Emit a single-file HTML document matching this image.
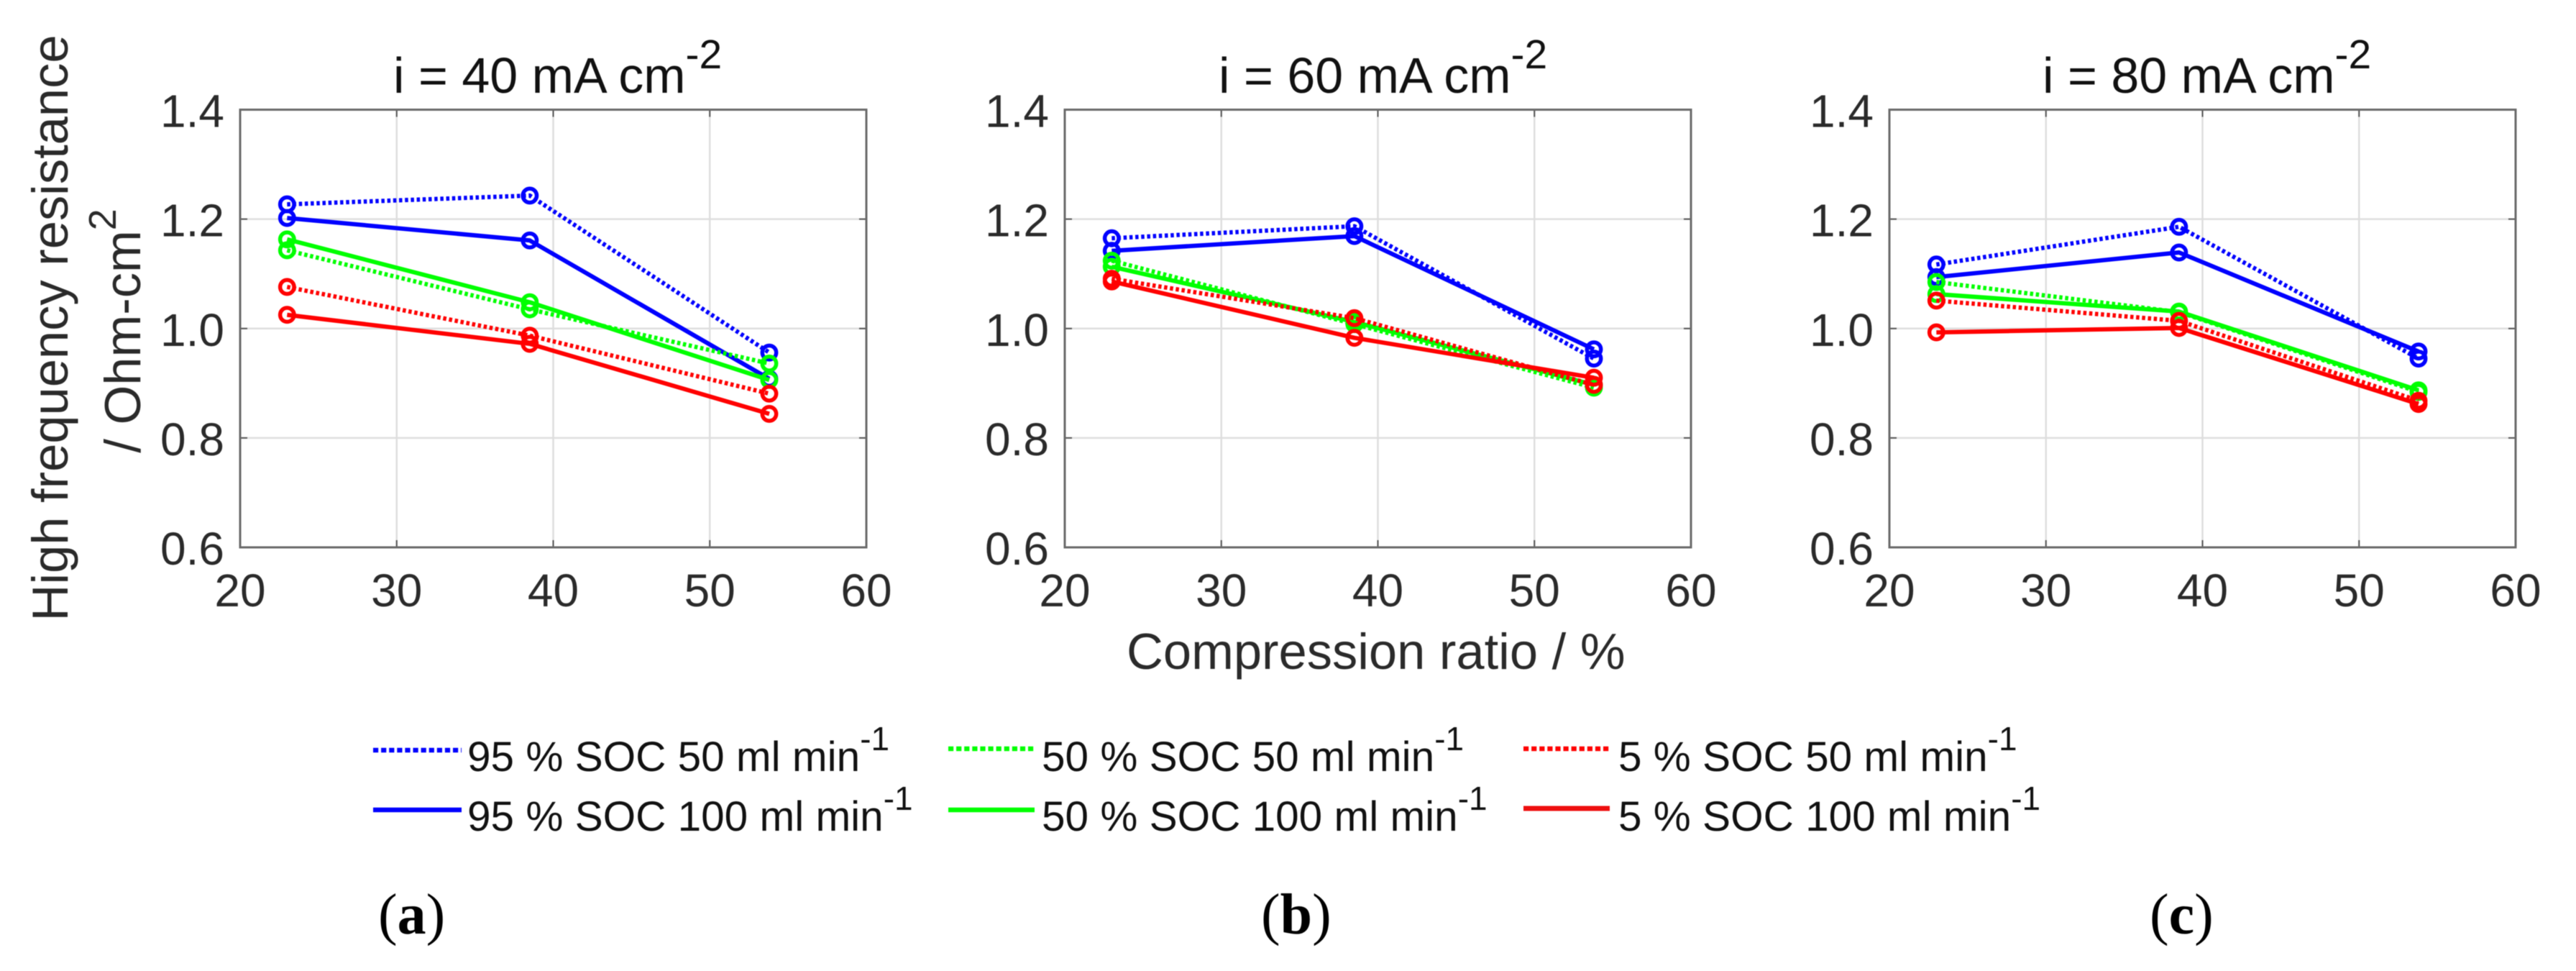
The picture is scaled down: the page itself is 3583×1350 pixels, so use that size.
<!DOCTYPE html>
<html>
<head>
<meta charset="utf-8">
<title>High frequency resistance vs compression ratio</title>
<style>
html,body{margin:0;padding:0;background:#fff;}
svg{display:block;filter:blur(0.6px);}
text{font-family:"Liberation Sans",Arial,sans-serif;}
.legend-text{font-size:58.5px;fill:#111;}
.panel-title{font-size:70px;fill:#111;}
.axis-title{font-size:70.5px;fill:#2a2a2a;}
.panel-letter{font-family:"Liberation Serif",serif;font-size:80px;fill:#000;}
</style>
</head>
<body>
<svg id="figure" xmlns="http://www.w3.org/2000/svg" width="3583" height="1350" viewBox="0 0 3583 1350">
  <rect x="0" y="0" width="3583" height="1350" fill="#fff"/>
  <g id="panels"></g>

  <text class="panel-title" x="547" y="129">i = 40 mA cm<tspan font-size="57" dy="-34">-2</tspan></text>
  <text class="panel-title" x="1695" y="129">i = 60 mA cm<tspan font-size="57" dy="-34">-2</tspan></text>
  <text class="panel-title" x="2841" y="129">i = 80 mA cm<tspan font-size="57" dy="-34">-2</tspan></text>

  <text class="axis-title" text-anchor="middle" transform="translate(94 456) rotate(-90)">High frequency resistance</text>
  <text class="axis-title" text-anchor="middle" transform="translate(195 460) rotate(-90)">/ Ohm-cm<tspan font-size="54" dy="-34">2</tspan></text>
  <text class="axis-title" x="1567" y="930">Compression ratio / %</text>

  <g>
    <g>
      <line x1="519" y1="1043" x2="642" y2="1043" stroke="#0000ff" stroke-width="6.5" stroke-dasharray="7.2 3.9"/>
      <text class="legend-text" x="650" y="1072">95 % SOC 50 ml min<tspan font-size="46" dy="-29">-1</tspan></text>
    </g>
    <g>
      <line x1="519" y1="1126" x2="642" y2="1126" stroke="#0000ff" stroke-width="6.5"/>
      <text class="legend-text" x="650" y="1155">95 % SOC 100 ml min<tspan font-size="46" dy="-29">-1</tspan></text>
    </g>
    <g>
      <line x1="1319" y1="1041" x2="1439" y2="1041" stroke="#00ff00" stroke-width="6.5" stroke-dasharray="7.2 3.9"/>
      <text class="legend-text" x="1449" y="1072">50 % SOC 50 ml min<tspan font-size="46" dy="-29">-1</tspan></text>
    </g>
    <g>
      <line x1="1319" y1="1126" x2="1439" y2="1126" stroke="#00ff00" stroke-width="6.5"/>
      <text class="legend-text" x="1449" y="1155">50 % SOC 100 ml min<tspan font-size="46" dy="-29">-1</tspan></text>
    </g>
    <g>
      <line x1="2119" y1="1041" x2="2239" y2="1041" stroke="#ff0000" stroke-width="6.5" stroke-dasharray="7.2 3.9"/>
      <text class="legend-text" x="2251" y="1072">5 % SOC 50 ml min<tspan font-size="46" dy="-29">-1</tspan></text>
    </g>
    <g>
      <line x1="2119" y1="1124" x2="2239" y2="1124" stroke="#ee0f0f" stroke-width="7"/>
      <text class="legend-text" x="2251" y="1155">5 % SOC 100 ml min<tspan font-size="46" dy="-29">-1</tspan></text>
    </g>
  </g>

  <text class="panel-letter" x="526" y="1298">(<tspan font-weight="bold">a</tspan>)</text>
  <text class="panel-letter" x="1754" y="1298">(<tspan font-weight="bold">b</tspan>)</text>
  <text class="panel-letter" x="2990" y="1298">(<tspan font-weight="bold">c</tspan>)</text>
</svg>

<script>
// ---- data ----
const compressionRatios = [23, 38.5, 53.8];
const xTickLabels = [20, 30, 40, 50, 60];
const yTickLabels = [0.6, 0.8, 1.0, 1.2, 1.4];
const seriesNames = ['95-soc-50', '95-soc-100', '50-soc-50', '50-soc-100', '5-soc-50', '5-soc-100'];

const i40_soc95_50  = [1.227, 1.243, 0.956];
const i40_soc95_100 = [1.202, 1.161, 0.908];
const i40_soc50_50  = [1.143, 1.035, 0.936];
const i40_soc50_100 = [1.163, 1.048, 0.906];
const i40_soc5_50   = [1.076, 0.987, 0.881];
const i40_soc5_100  = [1.025, 0.972, 0.844];

const i60_soc95_50  = [1.165, 1.187, 0.945];
const i60_soc95_100 = [1.142, 1.169, 0.962];
const i60_soc50_50  = [1.124, 1.008, 0.892];
const i60_soc50_100 = [1.113, 1.012, 0.897];
const i60_soc5_50   = [1.091, 1.019, 0.897];
const i60_soc5_100  = [1.086, 0.983, 0.910];

const i80_soc95_50  = [1.117, 1.186, 0.945];
const i80_soc95_100 = [1.094, 1.139, 0.958];
const i80_soc50_50  = [1.085, 1.030, 0.884];
const i80_soc50_100 = [1.063, 1.031, 0.887];
const i80_soc5_50   = [1.051, 1.014, 0.868];
const i80_soc5_100  = [0.993, 1.001, 0.862];

const panelSeries = [
  [i40_soc95_50, i40_soc95_100, i40_soc50_50, i40_soc50_100, i40_soc5_50, i40_soc5_100],
  [i60_soc95_50, i60_soc95_100, i60_soc50_50, i60_soc50_100, i60_soc5_50, i60_soc5_100],
  [i80_soc95_50, i80_soc95_100, i80_soc50_50, i80_soc50_100, i80_soc5_50, i80_soc5_100]
];
const panelNames = ['i40', 'i60', 'i80'];

// ---- layout & style ----
const plotLefts = [334, 1481, 2628];
const plotRights = [1205, 2352, 3499];
const plotTop = 152.5;
const plotBottom = 761;
const seriesColors = ['#0000ff', '#0000ff', '#00ff00', '#00ff00', '#ff0000', '#ff0000'];
const seriesDashes = ['4.5 3.7', null, '4.5 3.7', null, '4.5 3.7', null];

const SVG_NS = 'http://www.w3.org/2000/svg';
const root = document.getElementById('panels');

function mk(tag, parent, attrs) {
  const el = document.createElementNS(SVG_NS, tag);
  for (const k in attrs) { if (attrs[k] !== null) el.setAttribute(k, attrs[k]); }
  parent.appendChild(el);
  return el;
}

function xScale(p, v) {
  return plotLefts[p] + (v - 20) / 40 * (plotRights[p] - plotLefts[p]);
}
function yScale(v) {
  return plotBottom - (v - 0.6) / 0.8 * (plotBottom - plotTop);
}

panelSeries.forEach(function (series, p) {
  const left = plotLefts[p], right = plotRights[p];

  const g = mk('g', root, {});
  
  

  // gridlines
  xTickLabels.slice(1, -1).forEach(function (t) {
    const gx = mk('line', g, {x1: xScale(p, t), x2: xScale(p, t), y1: plotTop, y2: plotBottom, stroke: '#dedede', 'stroke-width': 2.5});
    
    
  });
  yTickLabels.slice(1, -1).forEach(function (t) {
    const gy = mk('line', g, {x1: left, x2: right, y1: yScale(t), y2: yScale(t), stroke: '#dedede', 'stroke-width': 2.5});
    
    
  });

  // ticks and tick labels
  xTickLabels.forEach(function (t) {
    const x = xScale(p, t);
    const tb = mk('line', g, {x1: x, x2: x, y1: plotBottom, y2: plotBottom - 10, stroke: '#555', 'stroke-width': 2});
    
    
    const tt = mk('line', g, {x1: x, x2: x, y1: plotTop, y2: plotTop + 10, stroke: '#555', 'stroke-width': 2});
    
    
    const lbl = mk('text', g, {x: x, y: 843, 'text-anchor': 'middle', 'font-size': 64, fill: '#2a2a2a'});
    
    
    lbl.textContent = String(t);
  });
  yTickLabels.forEach(function (t) {
    const y = yScale(t);
    const tl = mk('line', g, {x1: left, x2: left + 10, y1: y, y2: y, stroke: '#555', 'stroke-width': 2});
    
    
    const tr = mk('line', g, {x1: right, x2: right - 10, y1: y, y2: y, stroke: '#555', 'stroke-width': 2});
    
    
    const lbl = mk('text', g, {x: left - 22, y: y + 24, 'text-anchor': 'end', 'font-size': 64, fill: '#2a2a2a'});
    
    
    lbl.textContent = t.toFixed(1);
  });

  // axes box
  const box = mk('rect', g, {x: left, y: plotTop, width: right - left, height: plotBottom - plotTop, fill: 'none', stroke: '#6a6a6a', 'stroke-width': 3});
  
  

  // series
  series.forEach(function (values, s) {
    const sg = mk('g', g, {});
    
    

    const pts = values.map(function (v, k) { return xScale(p, compressionRatios[k]) + ',' + yScale(v); }).join(' ');
    const line = mk('polyline', sg, {points: pts, fill: 'none', stroke: seriesColors[s], 'stroke-width': 6, 'stroke-dasharray': seriesDashes[s], 'stroke-linejoin': 'round'});
    
    

    values.forEach(function (v, k) {
      const c = mk('circle', sg, {cx: xScale(p, compressionRatios[k]), cy: yScale(v), r: 9.7, fill: 'none', stroke: seriesColors[s], 'stroke-width': 5.5});
      
      
    });
  });
});
</script>
</body>
</html>
